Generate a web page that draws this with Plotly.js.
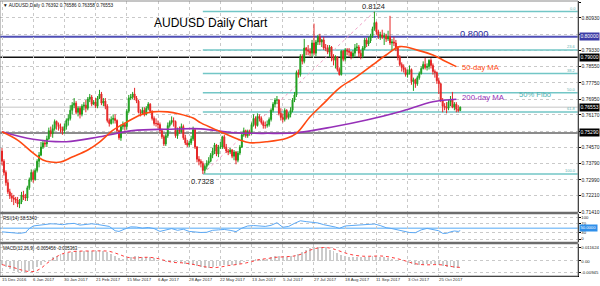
<!DOCTYPE html>
<html><head><meta charset="utf-8">
<script src="https://cdn.plot.ly/plotly-3.0.1.min.js"></script>
<style>html,body{margin:0;padding:0;background:#fff}#chart{width:600px;height:286px}</style>
</head><body><div id="chart"></div>
<script>
// ---------------- DATA ----------------
const tickIdx = [0,16,32,48,64,80,96,112,128,144,160,176,192,208,224];
const tickLabels = ['15 Dec 2016','6 Jan 2017','30 Jan 2017','21 Feb 2017','15 Mar 2017','6 Apr 2017','28 Apr 2017','22 May 2017','13 Jun 2017','5 Jul 2017','27 Jul 2017','18 Aug 2017','11 Sep 2017','3 Oct 2017','25 Oct 2017'];

const priceTickVals = [0.8171,0.8093,0.8013,0.7933,0.7855,0.7775,0.7695,0.7617,0.7537,0.7457,0.7379,0.7299,0.7221,0.7141];
const priceTickText = ['0.81710','0.80930','','0.79330','0.78550','0.77750','0.76950','0.76170','','0.74570','0.73790','0.72990','0.72210','0.71410'];

const opens = [0.7440,0.7390,0.7335,0.7285,0.7240,0.7220,0.7210,0.7205,0.7200,0.7180,
0.7190,0.7225,0.7215,0.7210,0.7260,0.7300,0.7335,0.7300,0.7345,0.7390,
0.7420,0.7460,0.7480,0.7475,0.7500,0.7540,0.7525,0.7550,0.7585,0.7570,
0.7560,0.7550,0.7540,0.7560,0.7590,0.7600,0.7640,0.7665,0.7675,0.7630,
0.7650,0.7620,0.7660,0.7665,0.7650,0.7695,0.7705,0.7670,0.7680,0.7660,
0.7700,0.7720,0.7675,0.7685,0.7660,0.7590,0.7575,0.7595,0.7600,0.7590,
0.7540,0.7505,0.7560,0.7570,0.7560,0.7635,0.7700,0.7705,0.7720,0.7700,
0.7685,0.7630,0.7625,0.7640,0.7620,0.7650,0.7670,0.7635,0.7600,0.7575,
0.7575,0.7570,0.7540,0.7510,0.7475,0.7515,0.7565,0.7580,0.7590,0.7585,
0.7515,0.7545,0.7535,0.7560,0.7505,0.7480,0.7470,0.7480,0.7500,0.7545,
0.7460,0.7400,0.7390,0.7380,0.7345,0.7365,0.7380,0.7390,0.7420,0.7440,
0.7470,0.7425,0.7460,0.7460,0.7510,0.7460,0.7440,0.7435,0.7445,0.7415,
0.7435,0.7395,0.7430,0.7460,0.7520,0.7540,0.7515,0.7535,0.7530,0.7570,
0.7600,0.7565,0.7610,0.7600,0.7580,0.7565,0.7565,0.7570,0.7595,0.7640,
0.7670,0.7690,0.7690,0.7625,0.7605,0.7595,0.7640,0.7605,0.7620,0.7640,
0.7690,0.7715,0.7825,0.7815,0.7905,0.7880,0.7945,0.7935,0.7930,0.7920,
0.7970,0.7920,0.7975,0.8000,0.7975,0.7985,0.7945,0.7945,0.7925,0.7950,
0.7905,0.7885,0.7900,0.7840,0.7815,0.7930,0.7890,0.7935,0.7930,0.7925,
0.7905,0.7920,0.7945,0.7950,0.7920,0.7905,0.7945,0.7985,0.7965,0.7980,
0.8005,0.8040,0.8070,0.8025,0.8005,0.8010,0.8000,0.8005,0.7990,0.8000,
0.7970,0.7975,0.7970,0.7945,0.7900,0.7865,0.7850,0.7840,0.7815,0.7825,
0.7840,0.7780,0.7790,0.7770,0.7800,0.7820,0.7845,0.7865,0.7850,0.7855,
0.7885,0.7860,0.7830,0.7825,0.7785,0.7770,0.7690,0.7660,0.7655,0.7650,
0.7680,0.7695,0.7655,0.7670,0.7645,0.76392];

const highs = [0.7455,0.7400,0.7345,0.7300,0.7255,0.7235,0.7225,0.7215,0.7215,0.7205,
0.7240,0.7245,0.7230,0.7270,0.7310,0.7350,0.7345,0.7355,0.7400,0.7435,
0.7485,0.7495,0.7495,0.7515,0.7555,0.7560,0.7570,0.7595,0.7590,0.7580,
0.7575,0.7560,0.7575,0.7600,0.7620,0.7665,0.7680,0.7700,0.7685,0.7660,
0.7660,0.7670,0.7680,0.7690,0.7705,0.7720,0.7715,0.7690,0.7700,0.7710,
0.7740,0.7730,0.7700,0.7700,0.7670,0.7600,0.7610,0.7620,0.7620,0.7595,
0.7545,0.7570,0.7585,0.7580,0.7645,0.7715,0.7720,0.7730,0.7750,0.7710,
0.7690,0.7645,0.7655,0.7655,0.7660,0.7680,0.7675,0.7640,0.7610,0.7600,
0.7590,0.7580,0.7550,0.7520,0.7525,0.7580,0.7590,0.7610,0.7605,0.7590,
0.7555,0.7560,0.7575,0.7570,0.7520,0.7495,0.7490,0.7515,0.7560,0.7550,
0.7465,0.7415,0.7400,0.7390,0.7375,0.7395,0.7410,0.7430,0.7455,0.7480,
0.7475,0.7470,0.7485,0.7515,0.7520,0.7475,0.7450,0.7455,0.7450,0.7445,
0.7440,0.7440,0.7470,0.7530,0.7555,0.7545,0.7545,0.7545,0.7580,0.7620,
0.7610,0.7625,0.7620,0.7610,0.7590,0.7585,0.7590,0.7605,0.7650,0.7680,
0.7700,0.7710,0.7695,0.7650,0.7625,0.7650,0.7645,0.7630,0.7655,0.7700,
0.7730,0.7835,0.7840,0.7915,0.7915,0.7990,0.7950,0.7960,0.7945,0.7985,
0.8065,0.7985,0.8010,0.8015,0.7990,0.8000,0.7965,0.7960,0.7960,0.7955,
0.7915,0.7910,0.7905,0.7850,0.7935,0.7935,0.7945,0.7945,0.7945,0.7930,
0.7935,0.7965,0.7970,0.7960,0.7935,0.7955,0.7995,0.7995,0.8000,0.8015,
0.8050,0.8124,0.8075,0.8035,0.8025,0.8035,0.8020,0.8015,0.8030,0.8103,
0.7990,0.8000,0.7985,0.7955,0.7910,0.7875,0.7865,0.7850,0.7840,0.7860,
0.7845,0.7800,0.7795,0.7810,0.7830,0.7855,0.7880,0.7897,0.7870,0.7890,
0.7895,0.7870,0.7840,0.7830,0.7800,0.7775,0.7700,0.7675,0.7680,0.7690,
0.7710,0.7730,0.7680,0.7680,0.7665,0.76586];

const lows = [0.7370,0.7320,0.7270,0.7230,0.7205,0.7190,0.7175,0.7185,0.7165,0.7160,
0.7180,0.7200,0.7195,0.7195,0.7250,0.7290,0.7285,0.7295,0.7335,0.7360,
0.7415,0.7450,0.7460,0.7460,0.7495,0.7510,0.7505,0.7540,0.7545,0.7540,
0.7530,0.7520,0.7525,0.7545,0.7565,0.7590,0.7620,0.7650,0.7620,0.7610,
0.7600,0.7610,0.7640,0.7630,0.7640,0.7680,0.7660,0.7665,0.7650,0.7650,
0.7695,0.7665,0.7660,0.7645,0.7580,0.7560,0.7570,0.7575,0.7575,0.7530,
0.7495,0.7490,0.7545,0.7540,0.7545,0.7625,0.7690,0.7695,0.7690,0.7675,
0.7625,0.7610,0.7620,0.7610,0.7615,0.7640,0.7625,0.7590,0.7565,0.7560,
0.7550,0.7530,0.7500,0.7465,0.7465,0.7505,0.7555,0.7570,0.7560,0.7505,
0.7500,0.7525,0.7530,0.7495,0.7470,0.7460,0.7460,0.7470,0.7490,0.7450,
0.7385,0.7370,0.7360,0.7328,0.7330,0.7350,0.7370,0.7385,0.7405,0.7425,
0.7415,0.7410,0.7450,0.7450,0.7450,0.7430,0.7420,0.7425,0.7405,0.7395,
0.7375,0.7385,0.7420,0.7455,0.7510,0.7505,0.7505,0.7515,0.7520,0.7560,
0.7550,0.7560,0.7585,0.7570,0.7550,0.7550,0.7555,0.7560,0.7585,0.7630,
0.7655,0.7670,0.7615,0.7590,0.7580,0.7585,0.7595,0.7595,0.7605,0.7630,
0.7680,0.7705,0.7800,0.7805,0.7865,0.7870,0.7910,0.7910,0.7905,0.7900,
0.7910,0.7905,0.7960,0.7960,0.7950,0.7935,0.7930,0.7915,0.7900,0.7880,
0.7860,0.7845,0.7830,0.7810,0.7810,0.7880,0.7880,0.7910,0.7905,0.7890,
0.7895,0.7905,0.7930,0.7900,0.7890,0.7895,0.7935,0.7950,0.7955,0.7970,
0.7995,0.8030,0.8010,0.7990,0.7985,0.7990,0.7960,0.7975,0.7980,0.7960,
0.7935,0.7955,0.7930,0.7885,0.7855,0.7830,0.7825,0.7805,0.7800,0.7815,
0.7765,0.7735,0.7750,0.7760,0.7790,0.7815,0.7840,0.7840,0.7835,0.7840,
0.7845,0.7815,0.7800,0.7770,0.7720,0.7680,0.7630,0.7640,0.7625,0.7640,
0.7660,0.7650,0.7640,0.7630,0.7630,0.76358];

const closes = [0.7390,0.7335,0.7285,0.7240,0.7220,0.7210,0.7205,0.7200,0.7180,0.7190,
0.7225,0.7215,0.7210,0.7260,0.7300,0.7335,0.7300,0.7345,0.7390,0.7420,
0.7460,0.7480,0.7475,0.7500,0.7540,0.7525,0.7550,0.7585,0.7570,0.7560,
0.7550,0.7540,0.7560,0.7590,0.7600,0.7640,0.7665,0.7675,0.7630,0.7650,
0.7620,0.7660,0.7665,0.7650,0.7695,0.7705,0.7670,0.7680,0.7660,0.7700,
0.7720,0.7675,0.7685,0.7660,0.7590,0.7575,0.7595,0.7600,0.7590,0.7540,
0.7505,0.7560,0.7570,0.7560,0.7635,0.7700,0.7705,0.7720,0.7700,0.7685,
0.7630,0.7625,0.7640,0.7620,0.7650,0.7670,0.7635,0.7600,0.7575,0.7575,
0.7570,0.7540,0.7510,0.7475,0.7515,0.7565,0.7580,0.7590,0.7585,0.7515,
0.7545,0.7535,0.7560,0.7505,0.7480,0.7470,0.7480,0.7500,0.7545,0.7460,
0.7400,0.7390,0.7380,0.7345,0.7365,0.7380,0.7390,0.7420,0.7440,0.7470,
0.7425,0.7460,0.7460,0.7510,0.7460,0.7440,0.7435,0.7445,0.7415,0.7435,
0.7395,0.7430,0.7460,0.7520,0.7540,0.7515,0.7535,0.7530,0.7570,0.7600,
0.7565,0.7610,0.7600,0.7580,0.7565,0.7565,0.7570,0.7595,0.7640,0.7670,
0.7690,0.7690,0.7625,0.7605,0.7595,0.7640,0.7605,0.7620,0.7640,0.7690,
0.7715,0.7825,0.7815,0.7905,0.7880,0.7945,0.7935,0.7930,0.7920,0.7970,
0.7920,0.7975,0.8000,0.7975,0.7985,0.7945,0.7945,0.7925,0.7950,0.7905,
0.7885,0.7900,0.7840,0.7815,0.7930,0.7890,0.7935,0.7930,0.7925,0.7905,
0.7920,0.7945,0.7950,0.7920,0.7905,0.7945,0.7985,0.7965,0.7980,0.8005,
0.8040,0.8070,0.8025,0.8005,0.8010,0.8000,0.8005,0.7990,0.8000,0.7970,
0.7975,0.7970,0.7945,0.7900,0.7865,0.7850,0.7840,0.7815,0.7825,0.7840,
0.7780,0.7790,0.7770,0.7800,0.7820,0.7845,0.7865,0.7850,0.7855,0.7885,
0.7860,0.7830,0.7825,0.7785,0.7770,0.7690,0.7660,0.7655,0.7650,0.7680,
0.7695,0.7655,0.7670,0.7645,0.7639,0.76553];

const ma50Idx = [0,8,16,21,25,30,36,44,50,57,64,71,77,85,91,98,102,112,122,127,136,146,151,158,165,173,182,190,197,204,213,221,226,233];
const ma50Val = [0.7535,0.7494,0.7430,0.7396,0.7386,0.7386,0.7411,0.7445,0.7484,0.7543,0.7582,0.7617,0.7632,0.7632,0.7622,0.7602,0.7578,0.7535,0.7494,0.7481,0.7486,0.7503,0.7527,0.7608,0.7674,0.7749,0.7805,0.7862,0.7911,0.7952,0.7935,0.7911,0.7887,0.7854];

const ma200Idx = [0,16,33,50,67,85,102,119,136,151,170,187,204,221,233];
const ma200Val = [0.7535,0.7498,0.7486,0.7510,0.7540,0.7547,0.7549,0.7530,0.7527,0.7530,0.7559,0.7592,0.7633,0.7682,0.7694];

const swingLow = 0.7328, swingLowIdx = 103;
const swingHigh = 0.8124, swingHighIdx = 191;
const fibRatios = [0, 0.236, 0.382, 0.5, 0.618, 1];
const fibLabels = ['0.0','23.6','38.2','50.0','61.8','100.0'];

const level0800 = 0.8000, level0790 = 0.7900, level07529 = 0.7529, lastClose = 0.76553;

const rsiIdx = [0,3,6,9,12,14,16,19,22,25,28,31,34,37,40,43,46,49,52,55,58,60,63,66,69,72,75,78,81,84,87,90,93,96,99,102,105,108,111,114,117,120,123,126,129,132,135,138,141,144,147,150,153,156,159,162,165,168,171,173,176,179,182,185,188,191,194,197,200,203,206,209,212,215,218,221,224,226,228,230,232,234,235];
const rsiVal = [33,30,27,26,30,48,60,63,64,70,69,66,70,72,64,66,70,67,64,58,38,35,46,56,55,50,53,48,35,42,48,40,45,35,32,30,31,40,42,44,40,34,50,60,62,60,58,63,75,54,58,72,84,80,78,74,66,62,55,49,60,62,63,64,66,69,62,52,48,42,38,30,29,42,49,45,38,26,26,33,37,35,38.534];

const macdMain = [-0.0035,-0.0050,-0.0065,-0.0080,-0.0090,-0.00945,-0.0092,-0.0082,-0.0068,-0.0050,
-0.0030,-0.0010,0.0010,0.0030,0.0045,0.0055,0.0060,0.0068,0.0078,0.0082,
0.0080,0.0080,0.0083,0.0086,0.0085,0.0088,0.0085,0.0075,0.0060,0.0045,
0.0028,0.0020,0.0022,0.0032,0.0040,0.0040,0.0035,0.0032,0.0030,0.0022,
0.0012,0.0000,-0.0010,-0.0010,-0.0008,-0.0012,-0.0015,-0.0022,-0.0030,-0.0035,
-0.0042,-0.0050,-0.0055,-0.0055,-0.0050,-0.0045,-0.0038,-0.0032,-0.0030,-0.0030,
-0.0030,-0.0022,-0.0010,0.0000,0.0008,0.0015,0.0018,0.0016,0.0018,0.0030,
0.0040,0.0042,0.0038,0.0036,0.0038,0.0048,0.0062,0.0078,0.0092,0.0105,
0.0112,0.011624,0.0112,0.0105,0.0095,0.0082,0.0068,0.0050,0.0042,0.0036,
0.0032,0.0030,0.0030,0.0032,0.0034,0.0038,0.0040,0.0036,0.0032,0.0026,
0.0020,0.0012,0.0004,-0.0004,-0.0015,-0.0028,-0.0035,-0.0035,-0.0030,-0.0025,
-0.0022,-0.0024,-0.0030,-0.0042,-0.0050,-0.0053,-0.0055,-0.005456];

const sigIdx = [0,6,10,14,17,20,23,26,29,32,36,40,45,50,55,60,64,68,72,76,80,84,88,92,96,100,104,108,112,116,120,124,128,132,136,140,145,150,154,158,162,165,168,171,175,180,185,190,194,198,202,206,210,214,218,222,226,230,235];
const sigVal = [-0.0030,-0.0055,-0.0075,-0.0088,-0.0085,-0.0060,-0.0020,0.0015,0.0045,0.0065,0.0078,0.0082,0.0083,0.0084,0.0080,0.0055,0.0032,0.0025,0.0030,0.0030,0.0020,0.0002,-0.0012,-0.0015,-0.0022,-0.0035,-0.0048,-0.0055,-0.0050,-0.0038,-0.0030,-0.0020,-0.0005,0.0012,0.0020,0.0030,0.0035,0.0042,0.0060,0.0090,0.0108,0.0112,0.0108,0.0095,0.0072,0.0050,0.0040,0.0040,0.0042,0.0035,0.0022,0.0005,-0.0015,-0.0028,-0.0032,-0.0030,-0.0033,-0.0045,-0.005363];

// ---------------- BUILD ----------------
const FONT = 'Liberation Sans, Arial, sans-serif';
const X_MIN = -1.03, X_MAX = 295.4;
const idx = closes.map((_, i) => i);
const macdIdx = macdMain.map((_, k) => 2 * k);

const traces = [
  {type:'candlestick', x: idx, open: opens, high: highs, low: lows, close: closes,
   xaxis:'x', yaxis:'y', whiskerwidth:0, hoverinfo:'skip', showlegend:false,
   increasing:{line:{color:'#1F9F1F', width:1}, fillcolor:'#1F9F1F'},
   decreasing:{line:{color:'#E62626', width:1}, fillcolor:'#E62626'}},
  {type:'scatter', mode:'lines', x: ma200Idx, y: ma200Val, xaxis:'x', yaxis:'y',
   line:{color:'#9630B8', width:1.6, shape:'spline', smoothing:1}, showlegend:false, hoverinfo:'skip'},
  {type:'scatter', mode:'lines', x: ma50Idx, y: ma50Val, xaxis:'x', yaxis:'y',
   line:{color:'#FF4A12', width:1.6, shape:'spline', smoothing:1}, showlegend:false, hoverinfo:'skip'},
  {type:'scatter', mode:'lines', x: rsiIdx, y: rsiVal, xaxis:'x', yaxis:'y2',
   line:{color:'#5AA8F5', width:1}, showlegend:false, hoverinfo:'skip'},
  {type:'bar', x: macdIdx, y: macdMain, xaxis:'x', yaxis:'y3', width:1,
   marker:{color:'#CBCBCB', line:{width:0}}, showlegend:false, hoverinfo:'skip'},
  {type:'scatter', mode:'lines', x: sigIdx, y: sigVal, xaxis:'x', yaxis:'y3',
   line:{color:'#FF3A3A', width:1, dash:'dot', shape:'spline'}, showlegend:false, hoverinfo:'skip'}
];

const shapes = [];
fibRatios.forEach(r => {
  const lv = swingHigh - r * (swingHigh - swingLow);
  shapes.push({type:'line', layer:'between', xref:'x', yref:'y', x0: swingLowIdx, x1: X_MAX, y0: lv, y1: lv,
               line:{color:'#72C6C6', width:1.5}});
});
shapes.push({type:'line', layer:'between', xref:'x', yref:'y', x0: swingLowIdx, y0: swingLow, x1: swingHighIdx, y1: swingHigh,
             line:{color:'#F0A4C8', width:1, dash:'dot'}});
shapes.push({type:'line', layer:'between', xref:'paper', yref:'y', x0:0, x1:1, y0: lastClose, y1: lastClose, line:{color:'#C4C4C4', width:1}});
shapes.push({type:'line', layer:'between', xref:'paper', yref:'y', x0:0, x1:1, y0: level07529, y1: level07529, line:{color:'#8C8C8C', width:2}});
shapes.push({type:'line', layer:'between', xref:'paper', yref:'y', x0:0, x1:1, y0: level0790, y1: level0790, line:{color:'#111111', width:1.5}});
shapes.push({type:'line', layer:'between', xref:'paper', yref:'y', x0:0, x1:1, y0: level0800, y1: level0800, line:{color:'#5050B6', width:2}});
shapes.push({type:'line', layer:'between', xref:'paper', yref:'y2', x0:0, x1:1, y0:50, y1:50, line:{color:'#8CC6FA', width:1.5}});
// panel separators and frame
shapes.push({type:'line', xref:'paper', yref:'paper', x0:0, x1:1, y0:0.2291, y1:0.2291, line:{color:'#6C6C6C', width:2.5}});
shapes.push({type:'line', xref:'paper', yref:'paper', x0:0, x1:1, y0:0.1200, y1:0.1200, line:{color:'#6C6C6C', width:2.5}});
shapes.push({type:'rect', xref:'paper', yref:'paper', x0:0, x1:1, y0:0, y1:1, line:{color:'#8A8A8A', width:1}});

const ann = [];
const tiny = (s, c) => ({family: FONT, size: s, color: c || '#222'});
// x labels
tickIdx.forEach((t, k) => ann.push({xref:'x', yref:'paper', x:t, y:-0.0145, xanchor:'left', yanchor:'middle', xshift:-1,
  text: tickLabels[k], showarrow:false, font: tiny(4.3, '#333'), borderpad:0}));
// fib level labels
fibRatios.forEach((r, k) => {
  const lv = swingHigh - r * (swingHigh - swingLow);
  ann.push({xref:'paper', yref:'y', x:1, y:lv, xanchor:'right', yanchor:'bottom', xshift:-1, yshift:-0.5,
    text: fibLabels[k], showarrow:false, font: tiny(4, '#5FB3B3'), borderpad:0});
});
// right axis boxes
const box = (yref, y, txt, bg, fs) => ann.push({xref:'paper', yref:yref, x:1, y:y, xanchor:'left', yanchor:'middle', xshift:1,
  text: txt, showarrow:false, bgcolor: bg, font: tiny(fs, '#FFFFFF'), borderpad:0.4});
box('y', level0800, '0.80000', '#3C3CA6', 5);
box('y', level0790, '0.79000', '#000000', 5);
box('y', lastClose, '0.76553', '#000000', 5);
box('y', level07529, '0.75290', '#000000', 5);
box('y2', 50, '50.0000', '#2F8FEA', 4.2);
// chart texts
ann.push({xref:'x', yref:'y', x:107.2, y:0.8069, xanchor:'center', yanchor:'middle', text:'AUDUSD Daily Chart', showarrow:false, font: tiny(12, '#000')});
ann.push({xref:'x', yref:'y', x:190.5, y:0.8148, xanchor:'center', yanchor:'middle', text:'0.8124', showarrow:false, font: tiny(7.5, '#222')});
ann.push({xref:'x', yref:'y', x:102.8, y:0.7293, xanchor:'center', yanchor:'middle', text:'0.7328', showarrow:false, font: tiny(7.5, '#222')});
ann.push({xref:'x', yref:'y', x:233.8, y:0.8012, xanchor:'left', yanchor:'middle', text:'0.8000', showarrow:false, font: tiny(9.3, '#2E2E9E')});
ann.push({xref:'x', yref:'y', x:234.9, y:0.7850, xanchor:'left', yanchor:'middle', text:'50-day MA', showarrow:false, font: tiny(7.6, '#FF4A12')});
ann.push({xref:'x', yref:'y', x:273.3, y:0.7717, xanchor:'center', yanchor:'middle', text:'50% Fibo', showarrow:false, font: tiny(7.6, '#4DAFAF')});
ann.push({xref:'x', yref:'y', x:234.9, y:0.7703, xanchor:'left', yanchor:'middle', text:'200-day MA', showarrow:false, font: tiny(7.8, '#9630B8')});
// panel headers
ann.push({xref:'paper', yref:'paper', x:0, y:1, xanchor:'left', yanchor:'top', xshift:2, yshift:-1,
  text:'\u25BC AUDUSD,Daily 0.76392 0.76586 0.76358 0.76553', showarrow:false, font: tiny(4.7, '#111'), borderpad:0});
ann.push({xref:'paper', yref:'paper', x:0, y:0.2255, xanchor:'left', yanchor:'top', xshift:2, yshift:-1,
  text:'RSI(14) 38.5340', showarrow:false, font: tiny(4.6, '#111'), borderpad:0});
ann.push({xref:'paper', yref:'paper', x:0, y:0.1164, xanchor:'left', yanchor:'top', xshift:2, yshift:-1,
  text:'MACD(12,26,9) -0.005456 -0.005363', showarrow:false, font: tiny(4.5, '#111'), borderpad:0});

const gridY = {showgrid:true, gridcolor:'#C9C9C9', griddash:'dot', gridwidth:1, zeroline:false,
  side:'right', anchor:'x', showline:true, linecolor:'#000', linewidth:1, ticks:'outside', ticklen:1.5, tickcolor:'#000',
  tickfont:{family:FONT, size:5, color:'#222'}, fixedrange:true};

const layout = {
  width:600, height:286,
  margin:{l:0, r:22, t:1, b:10, pad:0},
  paper_bgcolor:'#FFFFFF', plot_bgcolor:'#FFFFFF',
  showlegend:false, bargap:0,
  font:{family:FONT},
  xaxis:{domain:[0,1], range:[X_MIN, X_MAX], anchor:'y3', tickvals: tickIdx, showticklabels:false, ticks:'',
    showgrid:true, gridcolor:'#C9C9C9', griddash:'dot', gridwidth:1, zeroline:false,
    showline:true, linecolor:'#000', linewidth:1, rangeslider:{visible:false}, fixedrange:true},
  yaxis: Object.assign({}, gridY, {domain:[0.2327,1], range:[0.71411,0.81759], tickvals: priceTickVals, ticktext: priceTickText}),
  yaxis2: Object.assign({}, gridY, {domain:[0.1236,0.2255], range:[-13.8,115.2], tickvals:[0,30,70,100], ticktext:['0','30','70','100'],
    tickfont:{family:FONT, size:4.2, color:'#222'}}),
  yaxis3: Object.assign({}, gridY, {domain:[0,0.1164], range:[-0.01246,0.01412], tickvals:[-0.00945,0,0.011624], ticktext:['-0.00945','0.00','0.011624'],
    tickfont:{family:FONT, size:4.3, color:'#222'}}),
  shapes: shapes,
  annotations: ann
};

Plotly.newPlot('chart', traces, layout, {staticPlot:true, displayModeBar:false});
</script>
</body></html>
